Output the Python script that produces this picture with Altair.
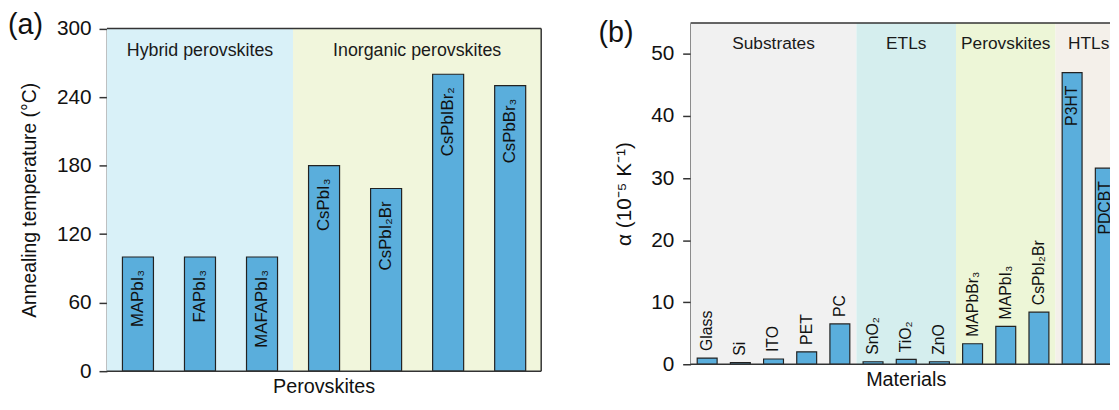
import altair as alt
import numpy as np
import pandas as pd

# ---------------- data ----------------
panel_labels = ["(a)", "(b)"]
x_titles = ["Perovskites", "Materials"]
y_titles = ["Annealing temperature (°C)", "α (10⁻⁵ K⁻¹)"]

a_labels = ["MAPbI₃", "FAPbI₃", "MAFAPbI₃", "CsPbI₃", "CsPbI₂Br", "CsPbIBr₂", "CsPbBr₃"]
a_values = [100, 100, 100, 180, 160, 260, 250]
a_groups = ["Hybrid perovskites", "Inorganic perovskites"]
a_group_sizes = [3, 4]
a_group_colors = ["#d9f1f8", "#f1f6dc"]

b_labels = ["Glass", "Si", "ITO", "PET", "PC", "SnO₂", "TiO₂", "ZnO",
            "MAPbBr₃", "MAPbI₃", "CsPbI₂Br", "P3HT", "PDCBT"]
b_values = [1.0, 0.26, 0.85, 2.0, 6.5, 0.4, 0.8, 0.4, 3.3, 6.1, 8.4, 47.0, 31.6]
b_groups = ["Substrates", "ETLs", "Perovskites", "HTLs"]
b_group_sizes = [5, 3, 3, 2]
b_group_colors = ["#f1f1f1", "#d5eeee", "#edf6d7", "#f4f0ea"]

FONT = "Liberation Sans"
BAR = "#5aaedc"
EDGE = "#222222"
AX = "#333333"
TXT = "#111111"


def group_frame(groups, sizes):
    ends = np.cumsum(sizes)
    starts = ends - np.array(sizes)
    return pd.DataFrame({"group": groups, "start": starts, "end": ends,
                         "mid": (starts + ends) / 2})


def panel(labels, values, groups, sizes, colors, ymax, ystep, ymajor,
          xtitle, ytitle, ytitle_size, ytitle_pad, label_pad, pad_inner,
          width, height, xrange_max, yrange, region_font, region_y,
          bar_font, plabel, plabel_x, plabel_y, inside_threshold, right_line):
    n = len(labels)
    df = pd.DataFrame({"label": labels, "value": values})
    gf = group_frame(groups, sizes)
    clip = xrange_max > width
    ytop, ybot = yrange[1], yrange[0]

    xq = alt.Scale(domain=[0, n], nice=False, zero=False, range=[0, xrange_max])
    bg = alt.Chart(gf).mark_rect(clip=clip).encode(
        x=alt.X("start:Q", scale=xq, axis=None),
        x2="end:Q",
        y=alt.value(ytop),
        y2=alt.value(ybot),
        color=alt.Color("group:N", scale=alt.Scale(domain=groups, range=colors), legend=None),
    )
    bgtext = alt.Chart(gf).mark_text(font=FONT, fontSize=region_font, color="#1a1a1a",
                                     baseline="middle", clip=clip).encode(
        x=alt.X("mid:Q", scale=xq, axis=None),
        y=alt.value(region_y),
        text="group:N",
    )
    back = alt.layer(bg, bgtext)

    yaxis = alt.Axis(
        title=ytitle, titleFontSize=ytitle_size, titleFont=FONT, titleFontWeight="normal",
        titleColor=TXT, titlePadding=ytitle_pad,
        values=[float(v) for v in np.arange(0, ymax + 0.001, ystep)],
        labelExpr=f"datum.value % {ymajor} === 0 ? datum.label : ''",
        tickSize={"condition": {"test": f"datum.value % {ymajor} !== 0", "value": 4}, "value": 8},
        labelFont=FONT, labelFontSize=21, labelColor=TXT, labelPadding=label_pad,
        grid=False, domainColor=AX, domainWidth=1.5, tickColor=AX, tickWidth=1.5,
    )

    yscale = alt.Scale(domain=[0, ymax], nice=False, range=yrange)
    base = alt.Chart(df).encode(
        x=alt.X("label:N", sort=None, axis=None,
                scale=alt.Scale(paddingInner=pad_inner, paddingOuter=pad_inner / 2,
                                range=[0, xrange_max])),
        y=alt.Y("value:Q", axis=yaxis, scale=yscale),
    )
    bars = base.mark_bar(color=BAR, stroke=EDGE, strokeWidth=1.2, clip=clip)
    layers = [bars]
    inside = base.transform_filter(f"datum.value >= {inside_threshold}").mark_text(
        angle=270, align="right", baseline="middle", dx=-13, font=FONT, fontSize=bar_font,
        color=TXT, clip=clip).encode(text="label:N")
    layers.append(inside)
    if inside_threshold > 0:
        above = base.transform_filter(f"datum.value < {inside_threshold}").mark_text(
            angle=270, align="left", baseline="middle", dx=7, font=FONT, fontSize=bar_font,
            color=TXT).encode(text="label:N")
        layers.append(above)

    # frame lines (left side is the y axis domain)
    hlines = alt.Chart(pd.DataFrame({"value": [0, ymax]})).mark_rule(
        color=AX, strokeWidth=1.5).encode(
        y=alt.Y("value:Q"), x=alt.value(0), x2=alt.value(width))
    layers.append(hlines)
    if right_line:
        vline = alt.Chart(pd.DataFrame({"value": [0], "value2": [ymax]})).mark_rule(
            color=AX, strokeWidth=1.5).encode(
            y=alt.Y("value:Q"), y2="value2:Q", x=alt.value(width))
        layers.append(vline)

    # x-axis title (centred under the full category range)
    xt = alt.Chart(pd.DataFrame({"t": [xtitle]})).mark_text(
        align="center", baseline="top", font=FONT, fontSize=20, color=TXT).encode(
        x=alt.value(xrange_max / 2), y=alt.value(ybot + 6), text="t:N")
    layers.append(xt)

    plab = alt.Chart(pd.DataFrame({"t": [plabel]})).mark_text(
        align="left", baseline="top", font=FONT, fontSize=29, color=TXT).encode(
        x=alt.value(plabel_x), y=alt.value(plabel_y), text="t:N")
    layers.append(plab)
    front = alt.layer(*layers)

    return alt.layer(back, front).resolve_scale(x="independent").properties(
        width=width, height=height, view=alt.ViewBackground(stroke=None))


pa = panel(a_labels, a_values, a_groups, a_group_sizes, a_group_colors,
           300, 30, 60, x_titles[0], y_titles[0], 19.5, 17, 8, 0.5,
           439, 352, 439, [352, 5.7], 18, 28.7, 17,
           panel_labels[0], -100, -12, 0, True)
pb = panel(b_labels, b_values, b_groups, b_group_sizes, b_group_colors,
           55, 5, 10, x_titles[1], y_titles[1], 21, 16, 9, 0.4,
           424, 345, 436, [345, 0], 17.5, 21.3, 16,
           panel_labels[1], -93, -4.2, 20, False)

chart = alt.hconcat(pa, pb, spacing=57).resolve_scale(color="independent").properties(
    padding={"left": 0, "top": 1, "right": 0, "bottom": 0}
).configure_view(stroke=None)

chart.save("out.html", embed_options={"renderer": "svg", "actions": False})
